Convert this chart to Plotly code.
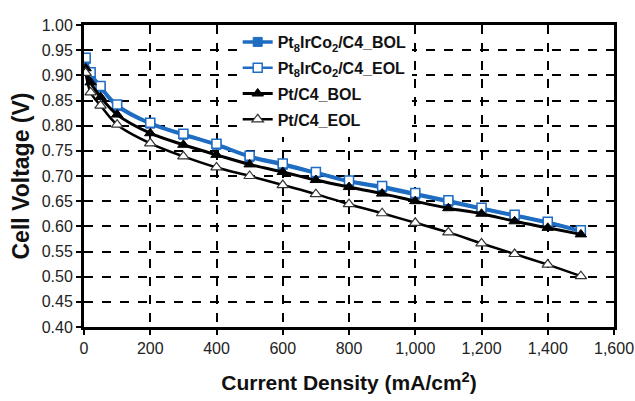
import plotly.graph_objects as go

# Polarization data: current density (mA/cm2) vs. cell voltage (V)
current = [5, 20, 50, 100, 200, 300, 400, 500, 600, 700, 800, 900, 1000, 1100, 1200, 1300, 1400, 1500]

ptircoc_bol = [0.932, 0.903, 0.876, 0.839, 0.804, 0.782, 0.762, 0.738, 0.722, 0.706, 0.689, 0.677, 0.663, 0.649, 0.635, 0.621, 0.607, 0.590]
ptircoc_eol = [0.935, 0.906, 0.879, 0.842, 0.806, 0.784, 0.764, 0.740, 0.725, 0.708, 0.691, 0.680, 0.666, 0.652, 0.637, 0.623, 0.609, 0.592]
ptc_bol = [0.914, 0.886, 0.857, 0.822, 0.785, 0.762, 0.742, 0.723, 0.708, 0.692, 0.678, 0.665, 0.650, 0.636, 0.625, 0.610, 0.597, 0.584]
ptc_eol = [0.905, 0.866, 0.840, 0.802, 0.765, 0.739, 0.717, 0.700, 0.682, 0.664, 0.644, 0.626, 0.607, 0.588, 0.566, 0.545, 0.524, 0.501]

names = [
    "Pt<sub>8</sub>IrCo<sub>2</sub>/C4_BOL",
    "Pt<sub>8</sub>IrCo<sub>2</sub>/C4_EOL",
    "Pt/C4_BOL",
    "Pt/C4_EOL",
]

BLUE = "#1f6dc2"
FONT = "Liberation Sans, Arial, sans-serif"

fig = go.Figure()
fig.add_trace(go.Scatter(
    x=current, y=ptircoc_bol, name=names[0], legendgroup="a", mode="lines+markers",
    line=dict(color=BLUE, width=3.5, shape="spline"),
    marker=dict(symbol="square", size=9, color=BLUE, line=dict(color=BLUE, width=1)),
))
fig.add_trace(go.Scatter(
    x=current, y=ptircoc_eol, name=names[1], legendgroup="b", mode="lines+markers",
    line=dict(color=BLUE, width=2.5, shape="spline"),
    marker=dict(symbol="square", size=9, color="white", line=dict(color=BLUE, width=1.5)),
))
fig.add_trace(go.Scatter(
    x=current, y=ptc_bol, name=names[2], legendgroup="c", mode="lines+markers",
    line=dict(color="black", width=3, shape="spline"),
    marker=dict(symbol="triangle-up", size=10, color="black", line=dict(color="black", width=1)),
))
fig.add_trace(go.Scatter(
    x=current, y=ptc_eol, name=names[3], legendgroup="d", mode="lines+markers",
    line=dict(color="black", width=2.5, shape="spline"),
    marker=dict(symbol="triangle-up", size=10, color="white", line=dict(color="#333", width=1.2)),
))

axis_common = dict(
    showline=True, linecolor="black", linewidth=3, mirror=True,
    showgrid=True, gridcolor="black", gridwidth=1.5, griddash="dash",
    ticks="outside", tickcolor="black", ticklen=5, tickwidth=2,
    tickfont=dict(family=FONT, size=16, color="#222"),
    zeroline=False, automargin=False,
)

fig.update_xaxes(
    range=[0, 1600], tickvals=list(range(0, 1601, 200)), tickformat=",d",
    title=dict(text="Current Density (mA/cm<sup>2</sup>)",
               font=dict(family=FONT, size=21, color="#111", weight="bold"), standoff=20),
    **axis_common,
)
fig.update_yaxes(
    range=[0.40, 1.00], dtick=0.05, tick0=0.40, tickformat=".2f",
    title=dict(text="Cell Voltage (V)",
               font=dict(family=FONT, size=23, color="#111", weight="bold"), standoff=6),
    **axis_common,
)

fig.update_layout(
    width=635, height=401,
    margin=dict(l=84, r=21, t=25, b=74),
    paper_bgcolor="white", plot_bgcolor="white",
    showlegend=True,
    legend=dict(
        x=0.29, y=1.0, xanchor="left", yanchor="top",
        bgcolor="white", borderwidth=0,
        font=dict(family=FONT, size=16, color="#111", weight="bold"),
        tracegroupgap=2,
    ),
)

fig.write_html("out.html")
